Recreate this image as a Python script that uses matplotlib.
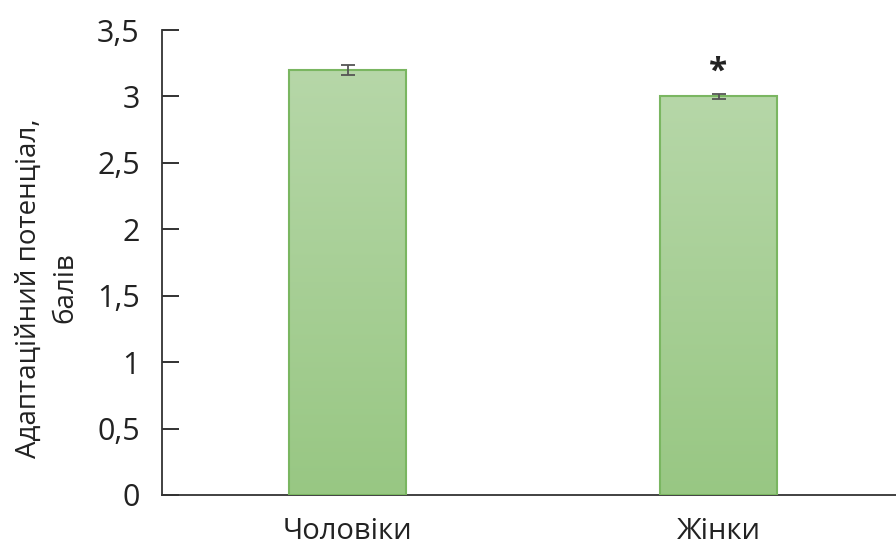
import matplotlib.pyplot as plt
import numpy as np
from matplotlib.colors import LinearSegmentedColormap

categories = ["Чоловіки", "Жінки"]
means = [3.2, 3.0]
errors = [0.035, 0.02]
significant = [False, True]
y_ticks = [0, 0.5, 1, 1.5, 2, 2.5, 3, 3.5]

plt.rcParams['font.family'] = ['Open Sans', 'DejaVu Sans']

fig = plt.figure(figsize=(8.96, 5.49), dpi=100)
ax = fig.add_axes([162 / 896, 1 - 495 / 549, 742 / 896, 465 / 549])

x = np.arange(len(categories))
bars = ax.bar(x, means, width=0.315, color='none', edgecolor='#7ab661', linewidth=1.5, zorder=3)

# vertical green gradient inside each bar
grad = LinearSegmentedColormap.from_list('g', ['#98c783', '#b6d7a8'])
for b in bars:
    x0, y0 = b.get_x(), b.get_y()
    w, h = b.get_width(), b.get_height()
    img = ax.imshow(np.linspace(0, 1, 256).reshape(-1, 1), cmap=grad, origin='lower',
                    extent=[x0, x0 + w, y0, y0 + h], aspect='auto', zorder=2)
    img.set_clip_path(b)

ax.errorbar(x, means, yerr=errors, fmt='none', ecolor='#555555', elinewidth=1.3,
            capsize=5, capthick=1.3, zorder=4)

for xi, m, e, s in zip(x, means, errors, significant):
    if s:
        ax.text(xi, m + e + 0.16, '*', ha='center', va='center', fontsize=24,
                fontweight='bold', color='#222222')

ax.set_xlim(-0.5, 1.5)
ax.set_ylim(0, 3.5)
ax.set_yticks(y_ticks)
ax.set_yticklabels([f"{t:g}".replace('.', ',') for t in y_ticks])
ax.set_xticks(x)
ax.set_xticklabels(categories)
ax.tick_params(axis='y', direction='in', length=12, width=1.3, labelsize=22, pad=16, colors='#222222')
ax.tick_params(axis='x', length=0, labelsize=21, pad=16, colors='#222222')
for side in ['top', 'right']:
    ax.spines[side].set_visible(False)
for side in ['left', 'bottom']:
    ax.spines[side].set_linewidth(1.3)
    ax.spines[side].set_color('#333333')

# y-axis title, placed a little below the axis middle
fig.text(47 / 896, 1 - 288 / 549, "Адаптаційний потенціал,\nбалів", rotation=90,
         ha='center', va='center', multialignment='center', fontsize=20,
         color='#222222', linespacing=1.4)

fig.savefig('out.png', dpi=100)
